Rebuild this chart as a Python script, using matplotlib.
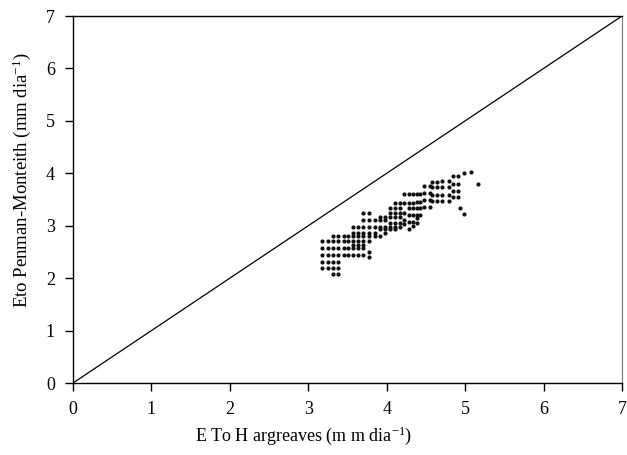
import matplotlib
matplotlib.use("Agg")
import matplotlib.pyplot as plt

# ETo Hargreaves columns and the Penman-Monteith values read in each column
col_x = [3.18, 3.25, 3.31, 3.38, 3.45, 3.51, 3.57, 3.64, 3.70, 3.78,
         3.85, 3.91, 3.98, 4.04, 4.11, 4.17, 4.22, 4.28, 4.34, 4.39,
         4.42, 4.48, 4.55, 4.58, 4.64, 4.71, 4.79, 4.84, 4.91,
         4.94, 4.98, 4.99, 5.08, 5.16]
col_y = [
    [2.19, 2.30, 2.44, 2.57, 2.71],
    [2.19, 2.30, 2.44, 2.57, 2.71],
    [2.07, 2.19, 2.30, 2.44, 2.57, 2.71, 2.80],
    [2.07, 2.19, 2.30, 2.44, 2.57, 2.71, 2.80],
    [2.44, 2.57, 2.71, 2.80],
    [2.44, 2.57, 2.71, 2.80],
    [2.44, 2.57, 2.63, 2.71, 2.80, 2.86, 2.98],
    [2.44, 2.57, 2.63, 2.71, 2.80, 2.86, 2.98],
    [2.44, 2.57, 2.63, 2.71, 2.80, 2.86, 2.98, 3.11, 3.25],
    [2.40, 2.50, 2.71, 2.80, 2.86, 2.98, 3.11, 3.25],
    [2.80, 2.86, 2.98, 3.11],
    [2.80, 2.93, 2.98, 3.11, 3.16],
    [2.86, 2.93, 2.98, 3.11, 3.16],
    [2.93, 2.98, 3.05, 3.16, 3.25, 3.33],
    [2.93, 2.98, 3.05, 3.16, 3.25, 3.33, 3.44],
    [2.98, 3.05, 3.16, 3.25, 3.33, 3.44],
    [3.03, 3.11, 3.25, 3.44, 3.60],
    [2.93, 3.08, 3.20, 3.33, 3.44, 3.60],
    [3.00, 3.08, 3.20, 3.33, 3.44, 3.60],
    [3.06, 3.14, 3.20, 3.33, 3.45, 3.60],
    [3.20, 3.33, 3.45, 3.60],
    [3.36, 3.49, 3.62, 3.76],
    [3.36, 3.49, 3.62, 3.76],
    [3.47, 3.59, 3.73, 3.83],
    [3.47, 3.59, 3.73, 3.83],
    [3.47, 3.59, 3.73, 3.86],
    [3.47, 3.59, 3.73, 3.86],
    [3.54, 3.67, 3.80, 3.94],
    [3.54, 3.67, 3.80, 3.94],
    [3.34],
    [3.22],
    [4.00],
    [4.03],
    [3.79],
]

xs = []
ys = []
for x, yl in zip(col_x, col_y):
    for y in yl:
        xs.append(x)
        ys.append(y)

plt.rcParams['font.family'] = ['Liberation Serif', 'DejaVu Serif']
plt.rcParams['mathtext.fontset'] = 'custom'
plt.rcParams['mathtext.rm'] = 'Liberation Serif'
plt.rcParams['mathtext.default'] = 'rm'

fig = plt.figure(figsize=(6.27, 4.55), dpi=100)
ax = fig.add_axes([0.1164, 0.1582, 0.8756, 0.8066])

ax.plot([0, 7], [0, 7], color='black', lw=0.9)
ax.scatter(xs, ys, s=9, color='#111111', marker='o', linewidths=0)

ax.set_xlim(0, 7)
ax.set_ylim(0, 7)
ax.set_xticks(range(8))
ax.set_yticks(range(8))
ax.tick_params(direction='out', length=6, width=1, labelsize=13, pad=7)
ax.tick_params(top=False, right=False)
for s in ['left', 'bottom', 'top']:
    ax.spines[s].set_linewidth(1)
ax.spines['right'].set_color('#777777')

ax.set_xlabel('E To H argreaves (m m dia$^{-1}$)', fontsize=13)
ax.set_ylabel('Eto Penman-Monteith (mm dia$^{-1}$)', fontsize=13.5)
ax.xaxis.set_label_coords(0.42, -0.112)
ax.yaxis.set_label_coords(-0.072, 0.553)

fig.savefig('out.png', dpi=100)
